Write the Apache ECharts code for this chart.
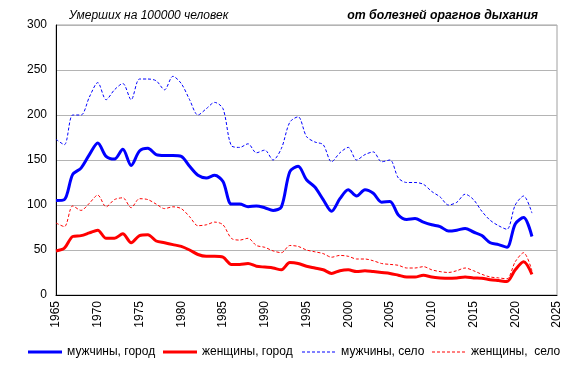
<!DOCTYPE html>
<html><head><meta charset="utf-8">
<script src="https://cdn.jsdelivr.net/npm/echarts@6/dist/echarts.min.js"></script>
<style>html,body{margin:0;padding:0;background:#fff}#c{width:581px;height:372px}</style>
</head><body><div id="c"></div>
<script>
const years = [];
for (let y = 1965; y <= 2022; y++) years.push(y);
const menCity = [105,106,134,141,156,169,154,151,162,144,160,163,156,155,155,154,143,133,130,133,126,101,101,98,99,97,94,98,137,143,128,120,106,93,107,117,110,117,113,103,104,89,84,85,81,78,76,71,72,74,70,66,58,56,53,79,86,65];
const womenCity = [49,52,65,66,69,72,63,63,68,58,66,67,60,58,56,54,50,45,43,43,42,34,34,35,32,31,30,28,36,35,32,30,28,24,27,28,26,27,26,25,24,22,20,20,22,20,19,18.5,19,20,19,18.5,17,16,15,28,37,23];
const menVillage = [173,167,200,200,220,236,217,228,235,217,240,240,238,228,243,235,217,200,207,214,207,166,164,168,158,161,150,163,192,198,176,170,167,148,158,164,150,156,159,148,150,130,125,125,123,115,109,100,103,112,106,93,83,77,73,100,110,91];
const womenVillage = [80,76,99,94,102,111,98,106,108,97,107,106,101,96,98,96,87,77,78,81,78,63,61,63,55,53,49,47,55,54,50,48,46,42,44,43,40,40,38,35,34,33,30,30,31.5,28,26,25,27,30,27,23,20,19,18,37,47,27];
const seriesNames = ['мужчины, город','женщины, город','мужчины, село','женщины,  село'];
const yTicks = [0,50,100,150,200,250,300];
const xTicks = [1965,2025];

const pair = arr => years.map((y,i)=>[y,arr[i]]);
const F = 'Liberation Sans, Arial, sans-serif';
const chart = echarts.init(document.getElementById('c'), null, {renderer:'canvas'});
const mk = (name, data, color, width, type) => ({
  name, type:'line', data: pair(data), smooth:0.3, showSymbol:false, symbol:'none',
  lineStyle:{color, width, type}, itemStyle:{color}, animation:false
});
let dashPath = 'path://';
for (let i = 0; i < 7; i++) { const x = i*5; dashPath += 'M'+x+',0H'+(x+3)+'V1H'+x+'Z'; }
dashPath += 'M34,0H34.01V1H34Z';
const solidPath = 'path://M0,0H34V3H0Z';
const lc = (left, name, icon, h) => ({left, bottom:9, itemWidth:34, itemHeight:h,
  textStyle:{fontFamily:F,fontSize:12,color:'#000'}, selectedMode:false,
  data:[{name, icon}]});
chart.setOption({
  animation:false,
  title:[
    {text:'Умерших на 100000 человек', left:64, top:5, textStyle:{fontFamily:F,fontSize:12,fontStyle:'italic',fontWeight:'normal',color:'#000'}},
    {text:'от болезней орагнов дыхания', right:38, top:5, textStyle:{fontFamily:F,fontSize:12.3,fontStyle:'italic',fontWeight:'bold',color:'#000'}}
  ],
  grid:{left:56, right:24, top:25, bottom:77, show:true, borderColor:'#a0a0a0', borderWidth:1},
  legend:[
    lc(23, seriesNames[0], solidPath, 3),
    lc(158, seriesNames[1], solidPath, 3),
    lc(297, seriesNames[2], dashPath, 1),
    lc(427, seriesNames[3], dashPath, 1)
  ],
  xAxis:{type:'value', min:xTicks[0], max:xTicks[1], interval:5,
    axisLine:{show:true,lineStyle:{color:'#000',width:1}}, axisTick:{show:false},
    splitLine:{show:false},
    axisLabel:{rotate:90, fontFamily:F, fontSize:12, color:'#000', margin:6, formatter:v=>String(v)}},
  yAxis:{type:'value', min:yTicks[0], max:yTicks[yTicks.length-1], interval:50,
    axisLine:{show:true,lineStyle:{color:'#000',width:1}}, axisTick:{show:false},
    splitLine:{show:true,lineStyle:{color:'#b4b4b4',width:1}},
    axisLabel:{fontFamily:F, fontSize:12, color:'#000', margin:9}},
  series:[
    mk(seriesNames[0], menCity, '#0000ff', 3, 'solid'),
    mk(seriesNames[1], womenCity, '#ff0000', 3, 'solid'),
    mk(seriesNames[2], menVillage, '#0000ff', 1, [3,2]),
    mk(seriesNames[3], womenVillage, '#ff0000', 1, [3,2])
  ]
});
</script></body></html>
